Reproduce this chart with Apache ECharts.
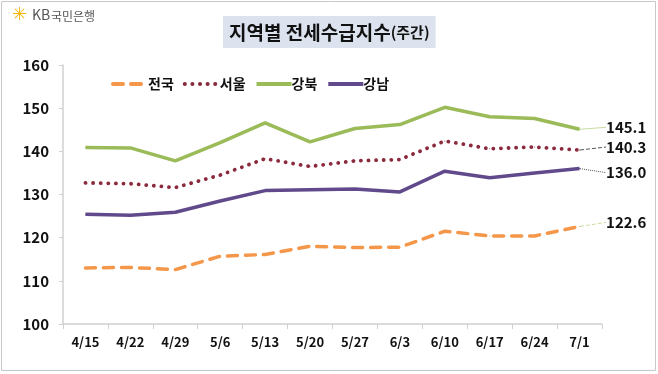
<!DOCTYPE html>
<html><head><meta charset="utf-8">
<script src="https://cdn.jsdelivr.net/npm/echarts@6/dist/echarts.min.js"></script>
<style>html,body{margin:0;padding:0;background:#fff}#c{width:658px;height:374px}</style>
</head><body><div id="c"></div>
<script>
const categories = ['4/15','4/22','4/29','5/6','5/13','5/20','5/27','6/3','6/10','6/17','6/24','7/1'];
const seriesNames = ['전국','서울','강북','강남'];
const national = [113.0,113.1,112.6,115.7,116.1,118.0,117.7,117.8,121.5,120.4,120.4,122.6];
const seoul    = [132.7,132.5,131.6,134.5,138.3,136.5,137.8,138.1,142.4,140.6,141.0,140.3];
const gangbuk  = [140.9,140.8,137.8,142.0,146.6,142.2,145.3,146.2,150.2,148.0,147.6,145.1];
const gangnam  = [125.4,125.2,125.9,128.5,130.9,131.1,131.25,130.6,135.4,133.9,135.0,136.0];
const yTicks = [100,110,120,130,140,150,160];

const chart = echarts.init(document.getElementById('c'), null, {renderer:'canvas'});
const FONT = '"Noto Sans CJK KR","Noto Sans",sans-serif';
function withEndLabel(arr){
  return arr.map((v,i)=> i===arr.length-1 ? {value:v, label:{show:true}} : v);
}
function mk(name, data, color, lineStyle, dy, leaderColor, leaderType){
  return {
    name, type:'line', data: withEndLabel(data), symbol:'circle', symbolSize:1, showSymbol:true, z: 3,
    lineStyle: Object.assign({color, width:3.5}, lineStyle),
    itemStyle:{color},
    label:{show:false, position:'right', distance:2, formatter: p => p.value.toFixed(1),
      fontFamily:FONT, fontWeight:'bold', fontSize:15, color:'#111'},
    labelLine:{show:true, smooth:false, lineStyle:{color:leaderColor, width:1, type:leaderType}},
    labelLayout:{dx:24, dy:dy}
  };
}
chart.setOption({
  animation:false,
  backgroundColor:'#fff',
  title:{
    text:'{a|지역별 전세수급지수}{b|(주간)}',
    left:223, top:14,
    backgroundColor:'#dce3ee',
    padding:[7,6,6,6],
    textStyle:{rich:{
      a:{fontFamily:FONT, fontWeight:'bold', fontSize:19, color:'#111', lineHeight:23},
      b:{fontFamily:FONT, fontWeight:'bold', fontSize:15, color:'#111', lineHeight:23}
    }}
  },
  legend:{
    data:seriesNames, left:106, top:72, itemWidth:35, itemHeight:10, itemGap:9,
    itemStyle:{opacity:0},
    lineStyle:{width:4},
    textStyle:{fontFamily:FONT, fontWeight:'bold', fontSize:14, color:'#111', padding:[0,0,0,-5]}
  },
  graphic:[
    {type:'rect', shape:{x:1.5,y:1.5,width:654,height:369}, style:{fill:'none', stroke:'#c8c8c8', lineWidth:1}, silent:true},
    {type:'text', left:12, top:6, style:{text:'✳', fontSize:18, fill:'#f2b705', fontFamily:'DejaVu Sans'}},
    {type:'text', left:32, top:8, style:{text:'KB', fontSize:14, fill:'#555', fontFamily:FONT}},
    {type:'text', left:51, top:10, style:{text:'국민은행', fontSize:12, fill:'#555', fontFamily:FONT}}
  ],
  grid:{left:63, right:56, top:65, bottom:50, containLabel:false},
  xAxis:{
    type:'category', data:categories, boundaryGap:true,
    axisLine:{lineStyle:{color:'#d0d0d0', width:1.5}},
    axisTick:{show:true, length:5, lineStyle:{color:'#d0d0d0'}},
    axisLabel:{fontFamily:FONT, fontWeight:'bold', fontSize:13, color:'#111', margin:12}
  },
  yAxis:{
    type:'value', min:yTicks[0], max:yTicks[yTicks.length-1], interval:10,
    axisLine:{show:true, lineStyle:{color:'#d0d0d0', width:1.5}},
    axisTick:{show:true, length:4, lineStyle:{color:'#d0d0d0'}},
    splitLine:{show:false},
    axisLabel:{fontFamily:FONT, fontWeight:'bold', fontSize:15, color:'#111', margin:14}
  },
  series:[
    mk('전국', national, '#f4974a', {type:[10,8], cap:'round'}, -4, '#c8dca0', 'dashed'),
    mk('서울', seoul, '#8b2a3c', {type:[0.1,7.5], cap:'round', width:3.8}, -3, '#555', 'dashed'),
    mk('강북', gangbuk, '#9bbb59', {}, -2, '#c8dca0', 'solid'),
    mk('강남', gangnam, '#604a8b', {}, 4, '#555', 'dotted')
  ]
});
</script></body></html>
